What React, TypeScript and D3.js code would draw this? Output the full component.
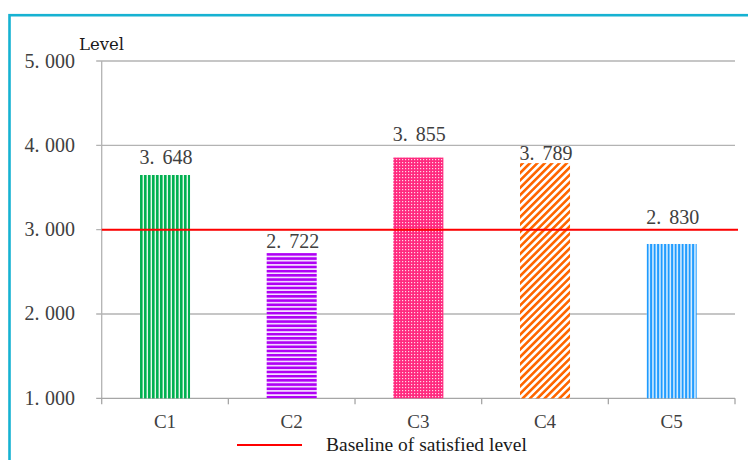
import React from "react";
import * as d3 from "d3";

const categories = ["C1", "C2", "C3", "C4", "C5"];
const values = [3.648, 2.722, 3.855, 3.789, 2.83];
const yTicks = [1, 2, 3, 4, 5];
const baselineValue = 3;
const legendLabel = "Baseline of satisfied level";
const axisTitle = "Level";
// label offset above bar top (styling of data labels)
const labelGaps = [11, 5, 17, 3, 20];

const W = 748;
const H = 460;
const left = 101.7;
const right = 735;
const top = 61;
const bottom = 398.3;

const fmtParts = (v: number) => {
  const s = v.toFixed(3);
  const [a, b] = s.split(".");
  return [a + ".", b];
};

const serifStack = '"Liberation Serif", "Times New Roman", "DejaVu Serif", serif';

export default function App() {
  const x = d3.scaleBand<string>().domain(categories).range([left, right]).paddingInner(0.605).paddingOuter(0.3025);
  const y = d3.scaleLinear().domain([1, 5]).range([bottom, top]);
  const bw = x.bandwidth();
  const step = (right - left) / categories.length;
  const fills = ["url(#pC1)", "url(#pC2)", "url(#pC3)", "url(#pC4)", "url(#pC5)"];
  return (
    <svg width={W} height={H} style={{ position: "absolute", left: 0, top: 0, background: "#fff" }}>
      <defs>
        <pattern id="pC1" width={4} height={4} patternUnits="userSpaceOnUse" x={x("C1")}>
          <rect width={4} height={4} fill="#e6f8ec" />
          <rect width={2.6} height={4} fill="#00b050" />
        </pattern>
        <pattern id="pC2" width={4} height={4.2} patternUnits="userSpaceOnUse" y={y(values[1])}>
          <rect width={4} height={4.2} fill="#f6e6ff" />
          <rect width={4} height={2.6} fill="#b000f5" />
        </pattern>
        <pattern id="pC3" width={3} height={3} patternUnits="userSpaceOnUse">
          <rect width={3} height={3} fill="#ff2a7f" />
          <rect width={1.2} height={1.2} fill="#ffd6e6" />
        </pattern>
        <pattern id="pC4" width={5.2} height={5.2} patternUnits="userSpaceOnUse" patternTransform="rotate(45)">
          <rect width={5.2} height={5.2} fill="#fff" />
          <rect width={2.6} height={5.2} fill="#ff6600" />
        </pattern>
        <pattern id="pC5" width={3.5} height={4} patternUnits="userSpaceOnUse" x={x("C5")}>
          <rect width={3.5} height={4} fill="#e2f2ff" />
          <rect width={2} height={4} fill="#1e9bff" />
        </pattern>
      </defs>

      {/* frame */}
      <rect x={9.5} y={15.2} width={800} height={500} fill="none" stroke="#16b2d2" strokeWidth={2.6} />

      {/* gridlines */}
      {yTicks.slice(1).map((t) => (
        <line key={t} x1={left - 5.5} x2={right} y1={y(t)} y2={y(t)} stroke="#b3b3b3" strokeWidth={1.3} />
      ))}
      <line x1={left} x2={left} y1={top} y2={bottom} stroke="#b3b3b3" strokeWidth={1.3} />
      <line x1={left - 5.5} x2={right} y1={bottom} y2={bottom} stroke="#a6a6a6" strokeWidth={1.3} />
      {d3.range(categories.length + 1).map((i) => (
        <line key={i} x1={left + i * step} x2={left + i * step} y1={bottom} y2={bottom + 6} stroke="#a6a6a6" strokeWidth={1.3} />
      ))}

      {/* y tick labels */}
      {yTicks.map((t) => {
        const [a, b] = fmtParts(t);
        return (
          <text key={t} x={75} y={y(t) + 6.5} textAnchor="end" style={{ fontFamily: serifStack, fontSize: "20px" }} fill="#404040">
            {a}
            <tspan dx={5.5}>{b}</tspan>
          </text>
        );
      })}
      <text x={79} y={50} style={{ fontFamily: '"DejaVu Serif", serif', fontSize: "16.5px" }} fill="#1a1a1a">
        {axisTitle}
      </text>

      {/* bars */}
      {categories.map((c, i) => (
        <rect key={c} x={x(c)} y={y(values[i])} width={bw} height={bottom - y(values[i])} fill={fills[i]} />
      ))}

      {/* baseline */}
      <line x1={left} x2={738} y1={y(baselineValue)} y2={y(baselineValue)} stroke="#ff0000" strokeWidth={2} />

      {/* value labels */}
      {categories.map((c, i) => {
        const [a, b] = fmtParts(values[i]);
        return (
          <text key={c} x={(x(c) as number) + bw / 2 + 1} y={y(values[i]) - labelGaps[i]} textAnchor="middle" style={{ fontFamily: serifStack, fontSize: "20px" }} fill="#404040">
            {a}
            <tspan dx={8}>{b}</tspan>
          </text>
        );
      })}

      {/* category labels */}
      {categories.map((c) => (
        <text key={c} x={(x(c) as number) + bw / 2} y={428} textAnchor="middle" style={{ fontFamily: serifStack, fontSize: "19px" }} fill="#404040">
          {c}
        </text>
      ))}

      {/* legend */}
      <line x1={237} x2={302} y1={445} y2={445} stroke="#ff0000" strokeWidth={2.2} />
      <text x={326} y={450.5} style={{ fontFamily: serifStack, fontSize: "19.5px" }} fill="#1a1a1a">
        {legendLabel}
      </text>
    </svg>
  );
}
